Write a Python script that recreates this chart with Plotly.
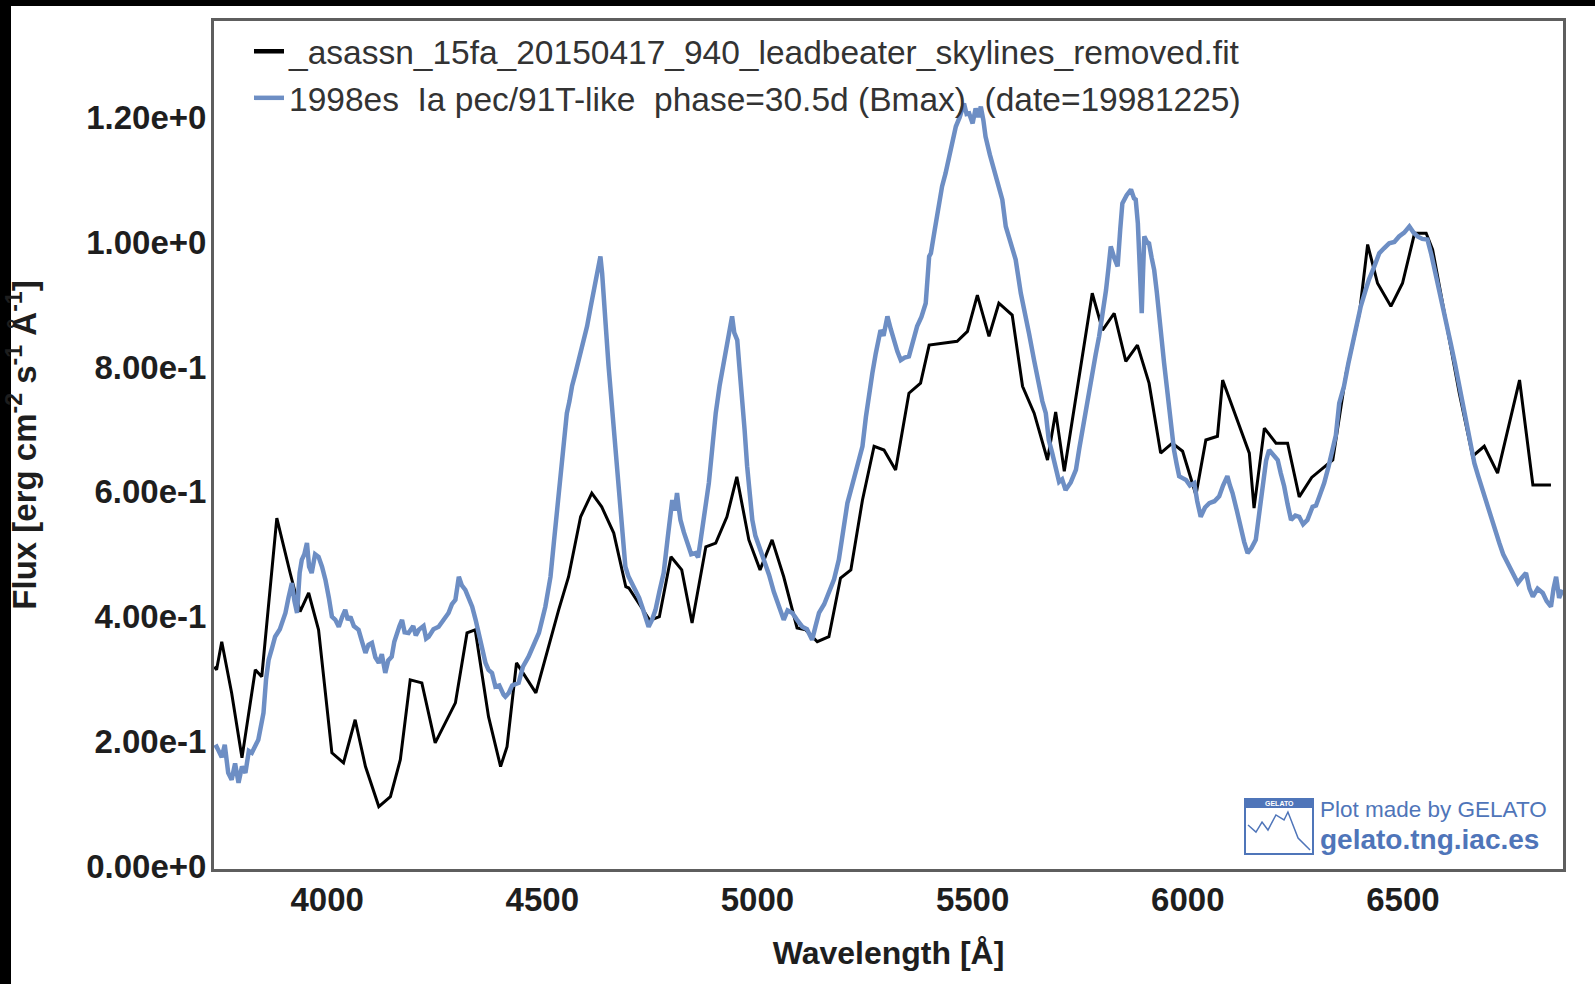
import plotly.graph_objects as go

# ---- data ----
obs_wave = [3738, 3743, 3755, 3778, 3802, 3833, 3848, 3883, 3914, 3937, 3957, 3980, 4011, 4038, 4065, 4089,
            4120, 4147, 4170, 4193, 4220, 4251, 4298, 4325, 4344, 4375, 4403, 4418, 4440, 4485, 4538, 4561,
            4589, 4615, 4638, 4666, 4694, 4701, 4750, 4772, 4799, 4824, 4848, 4880, 4903, 4929, 4952, 4980,
            5006, 5034, 5061, 5081, 5092, 5112, 5139, 5166, 5193, 5217, 5244, 5271, 5294, 5321, 5352, 5379,
            5399, 5464, 5488, 5511, 5538, 5561, 5592, 5616, 5643, 5674, 5693, 5713, 5778, 5802, 5829, 5856,
            5883, 5910, 5937, 5964, 5988, 6019, 6042, 6069, 6081, 6143, 6154, 6178, 6205, 6232, 6259, 6288,
            6337, 6368, 6399, 6418, 6441, 6472, 6499, 6527, 6554, 6569, 6600, 6631, 6662, 6689, 6720, 6771,
            6802, 6844]
obs_flux = [0.320, 0.315, 0.360, 0.278, 0.174, 0.315, 0.304, 0.558, 0.470, 0.408, 0.438, 0.379, 0.182, 0.166, 0.235, 0.160,
            0.096, 0.112, 0.171, 0.299, 0.294, 0.198, 0.262, 0.374, 0.379, 0.240, 0.160, 0.192, 0.326, 0.278, 0.411, 0.464,
            0.560, 0.598, 0.576, 0.534, 0.448, 0.446, 0.394, 0.400, 0.496, 0.475, 0.390, 0.512, 0.518, 0.560, 0.624, 0.523,
            0.475, 0.523, 0.464, 0.411, 0.382, 0.379, 0.360, 0.368, 0.462, 0.475, 0.587, 0.673, 0.667, 0.635, 0.758, 0.774,
            0.835, 0.841, 0.857, 0.915, 0.849, 0.902, 0.883, 0.769, 0.726, 0.651, 0.728, 0.633, 0.918, 0.859, 0.886, 0.809,
            0.835, 0.774, 0.662, 0.678, 0.665, 0.595, 0.683, 0.689, 0.779, 0.662, 0.574, 0.702, 0.678, 0.678, 0.592, 0.623,
            0.651, 0.790, 0.886, 0.996, 0.934, 0.897, 0.934, 1.014, 1.014, 0.988, 0.870, 0.758, 0.657, 0.673, 0.630, 0.779,
            0.611, 0.611]

tpl_wave = [3738, 3743, 3755, 3762, 3770, 3778, 3786, 3794, 3802, 3810, 3818, 3825, 3840, 3852, 3858, 3864,
            3872, 3879, 3890, 3903, 3910, 3918, 3924, 3930, 3936, 3941, 3947, 3953, 3958, 3964, 3972, 3980,
            3988, 3996, 4004, 4011, 4019, 4027, 4035, 4042, 4048, 4054, 4062, 4073, 4081, 4089, 4096, 4104,
            4112, 4120, 4127, 4135, 4142, 4150, 4156, 4162, 4168, 4174, 4180, 4189, 4200, 4206, 4213, 4224,
            4230, 4236, 4247, 4259, 4270, 4282, 4290, 4298, 4306, 4313, 4321, 4330, 4337, 4345, 4352, 4360,
            4368, 4375, 4383, 4391, 4400, 4410, 4414, 4422, 4430, 4445, 4455, 4468, 4480, 4492, 4507, 4519,
            4527, 4534, 4540, 4546, 4552, 4557, 4563, 4569, 4577, 4585, 4595, 4604, 4612, 4620, 4628, 4635,
            4639, 4643, 4648, 4654, 4660, 4666, 4672, 4678, 4685, 4693, 4700, 4710, 4717, 4725, 4732, 4740,
            4747, 4755, 4763, 4772, 4782, 4792, 4802, 4808, 4813, 4817, 4821, 4829, 4837, 4846, 4856, 4862,
            4868, 4877, 4887, 4895, 4903, 4912, 4922, 4933, 4941, 4946, 4953, 4958, 4964, 4970, 4976, 4982,
            4988, 4995, 5003, 5015, 5027, 5038, 5050, 5061, 5070, 5081, 5092, 5104, 5115, 5127, 5135, 5143,
            5155, 5166, 5178, 5189, 5200, 5209, 5218, 5228, 5236, 5244, 5252, 5259, 5267, 5275, 5281, 5286,
            5293, 5302, 5310, 5317, 5325, 5333, 5342, 5352, 5362, 5371, 5381, 5391, 5399, 5403, 5412, 5422,
            5429, 5437, 5445, 5453, 5461, 5470, 5480, 5486, 5492, 5500, 5507, 5513, 5519, 5525, 5530, 5540,
            5550, 5561, 5569, 5577, 5589, 5600, 5612, 5621, 5631, 5643, 5654, 5662, 5670, 5677, 5685, 5693,
            5701, 5708, 5716, 5728, 5740, 5748, 5755, 5766, 5778, 5786, 5794, 5802, 5810, 5816, 5821, 5829,
            5837, 5843, 5848, 5858, 5868, 5875, 5879, 5884, 5887, 5890, 5893, 5896, 5899, 5905, 5910, 5916,
            5922, 5928, 5933, 5939, 5945, 5951, 5957, 5962, 5968, 5974, 5980, 5988, 5996, 6005, 6015, 6022,
            6030, 6040, 6050, 6062, 6073, 6082, 6092, 6098, 6104, 6114, 6123, 6131, 6139, 6148, 6158, 6166,
            6174, 6182, 6189, 6198, 6209, 6216, 6224, 6232, 6240, 6250, 6259, 6268, 6278, 6290, 6298, 6307,
            6317, 6327, 6337, 6344, 6352, 6363, 6373, 6383, 6393, 6402, 6412, 6421, 6433, 6445, 6456, 6468,
            6480, 6491, 6503, 6515, 6525, 6534, 6545, 6557, 6566, 6576, 6584, 6592, 6602, 6611, 6621, 6631,
            6640, 6650, 6658, 6666, 6675, 6685, 6695, 6705, 6714, 6724, 6733, 6743, 6755, 6767, 6776, 6786,
            6794, 6802, 6813, 6825, 6834, 6844, 6850, 6856, 6863, 6871]
tpl_flux = [0.190, 0.192, 0.175, 0.195, 0.150, 0.139, 0.165, 0.134, 0.160, 0.150, 0.185, 0.182, 0.203, 0.246, 0.300, 0.331,
            0.350, 0.368, 0.380, 0.406, 0.430, 0.454, 0.425, 0.406, 0.470, 0.491, 0.500, 0.518, 0.480, 0.470, 0.500, 0.496,
            0.480, 0.459, 0.430, 0.400, 0.395, 0.384, 0.400, 0.411, 0.395, 0.400, 0.385, 0.379, 0.360, 0.342, 0.355, 0.358,
            0.335, 0.326, 0.340, 0.310, 0.330, 0.336, 0.360, 0.374, 0.385, 0.395, 0.375, 0.374, 0.385, 0.370, 0.379, 0.385,
            0.365, 0.368, 0.380, 0.384, 0.395, 0.406, 0.420, 0.427, 0.464, 0.450, 0.443, 0.430, 0.416, 0.395, 0.374, 0.350,
            0.326, 0.315, 0.310, 0.288, 0.290, 0.275, 0.272, 0.278, 0.290, 0.294, 0.320, 0.336, 0.355, 0.374, 0.416, 0.464,
            0.520, 0.571, 0.610, 0.662, 0.700, 0.726, 0.745, 0.769, 0.790, 0.811, 0.840, 0.865, 0.895, 0.923, 0.950, 0.977,
            0.950, 0.918, 0.860, 0.801, 0.750, 0.694, 0.640, 0.587, 0.530, 0.480, 0.465, 0.450, 0.443, 0.430, 0.416, 0.400,
            0.384, 0.395, 0.411, 0.440, 0.470, 0.530, 0.587, 0.570, 0.598, 0.575, 0.555, 0.535, 0.518, 0.500, 0.502, 0.495,
            0.523, 0.570, 0.614, 0.670, 0.726, 0.770, 0.806, 0.843, 0.881, 0.855, 0.843, 0.800, 0.758, 0.700, 0.641, 0.600,
            0.555, 0.530, 0.515, 0.490, 0.467, 0.440, 0.418, 0.395, 0.410, 0.406, 0.395, 0.384, 0.380, 0.363, 0.385, 0.406,
            0.420, 0.438, 0.460, 0.491, 0.540, 0.582, 0.605, 0.630, 0.650, 0.673, 0.720, 0.758, 0.790, 0.822, 0.845, 0.859,
            0.850, 0.881, 0.860, 0.843, 0.825, 0.811, 0.815, 0.817, 0.840, 0.865, 0.880, 0.902, 0.977, 0.982, 1.020, 1.068,
            1.089, 1.110, 1.137, 1.160, 1.185, 1.200, 1.222, 1.205, 1.206, 1.190, 1.214, 1.200, 1.217, 1.195, 1.169, 1.140,
            1.116, 1.085, 1.068, 1.025, 1.000, 0.972, 0.918, 0.890, 0.854, 0.810, 0.771, 0.745, 0.726, 0.683, 0.662, 0.635,
            0.616, 0.620, 0.603, 0.615, 0.635, 0.670, 0.699, 0.745, 0.790, 0.820, 0.849, 0.885, 0.923, 0.960, 0.993, 0.975,
            0.961, 1.020, 1.062, 1.075, 1.084, 1.070, 1.068, 1.030, 0.988, 0.930, 0.886, 0.950, 1.009, 1.000, 0.998, 0.975,
            0.955, 0.920, 0.881, 0.845, 0.806, 0.770, 0.731, 0.700, 0.667, 0.645, 0.625, 0.622, 0.619, 0.610, 0.614, 0.585,
            0.560, 0.575, 0.582, 0.585, 0.593, 0.610, 0.625, 0.610, 0.598, 0.570, 0.539, 0.520, 0.502, 0.510, 0.523, 0.570,
            0.614, 0.650, 0.667, 0.660, 0.651, 0.630, 0.609, 0.580, 0.555, 0.562, 0.560, 0.548, 0.555, 0.576, 0.578, 0.595,
            0.614, 0.640, 0.667, 0.690, 0.742, 0.769, 0.805, 0.838, 0.870, 0.897, 0.920, 0.940, 0.960, 0.982, 0.990, 0.998,
            1.000, 1.009, 1.015, 1.025, 1.015, 1.009, 1.005, 1.004, 0.980, 0.950, 0.925, 0.902, 0.870, 0.838, 0.805, 0.769,
            0.740, 0.705, 0.675, 0.646, 0.625, 0.603, 0.578, 0.555, 0.535, 0.518, 0.500, 0.486, 0.470, 0.454, 0.462, 0.470,
            0.445, 0.432, 0.445, 0.438, 0.425, 0.416, 0.445, 0.464, 0.430, 0.443]

obs_name = "_asassn_15fa_20150417_940_leadbeater_skylines_removed.fit"
tpl_name = "1998es  Ia pec/91T-like  phase=30.5d (Bmax)  (date=19981225)"

x_ticks = [4000, 4500, 5000, 5500, 6000, 6500]
y_ticks = [0.0, 0.2, 0.4, 0.6, 0.8, 1.0, 1.2]
y_ticktext = ["0.00e+0", "2.00e-1", "4.00e-1", "6.00e-1", "8.00e-1", "1.00e+0", "1.20e+0"]

# ---- layout geometry (pixels) ----
W, H = 1595, 984
L, R, T, B = 214, 1563, 21, 869
PW, PH = R - L, B - T


def px(xp):
    return (xp - L) / PW


def py(yp):
    return (B - yp) / PH


FONT = "Liberation Sans, Arial, sans-serif"
BLUE = "#6d8ec4"
LOGO = "#4f75b9"

fig = go.Figure()
fig.add_trace(go.Scatter(x=obs_wave, y=obs_flux, mode="lines", name=obs_name, legendgroup="obs",
                         showlegend=False, line=dict(color="#000000", width=3)))
fig.add_trace(go.Scatter(x=tpl_wave, y=tpl_flux, mode="lines", name=tpl_name, legendgroup="tpl",
                         showlegend=False, line=dict(color=BLUE, width=4.5)))
# legend entries (thicker legend lines, as in the reference)
fig.add_trace(go.Scatter(x=[None], y=[None], mode="lines", name=obs_name, legendgroup="obs",
                         line=dict(color="#000000", width=4.5)))
fig.add_trace(go.Scatter(x=[None], y=[None], mode="lines", name=tpl_name, legendgroup="tpl",
                         line=dict(color=BLUE, width=4.5)))

shapes = [
    # black strips at the top and left edge of the original screenshot
    dict(type="rect", xref="paper", yref="paper", x0=px(0), x1=px(W), y0=py(6), y1=py(0),
         fillcolor="black", line=dict(width=0), layer="above"),
    dict(type="rect", xref="paper", yref="paper", x0=px(0), x1=px(11), y0=py(H), y1=py(0),
         fillcolor="black", line=dict(width=0), layer="above"),
    # GELATO logo box
    dict(type="rect", xref="paper", yref="paper", x0=px(1245), x1=px(1313), y0=py(854), y1=py(799),
         fillcolor="white", line=dict(color=LOGO, width=2), layer="above"),
    dict(type="rect", xref="paper", yref="paper", x0=px(1245), x1=px(1313), y0=py(808), y1=py(799),
         fillcolor=LOGO, line=dict(width=0), layer="above"),
    dict(type="path", xref="paper", yref="paper", layer="above",
         path=("M {:.4f} {:.4f} L {:.4f} {:.4f} L {:.4f} {:.4f} L {:.4f} {:.4f} L {:.4f} {:.4f} "
               "L {:.4f} {:.4f} L {:.4f} {:.4f} L {:.4f} {:.4f} L {:.4f} {:.4f}").format(
             px(1248), py(825), px(1256), py(832), px(1262), py(822), px(1268), py(830),
             px(1276), py(815), px(1284), py(820), px(1288), py(812), px(1298), py(838),
             px(1310), py(850)),
         line=dict(color=LOGO, width=1.5)),
]

annotations = [
    dict(xref="paper", yref="paper", x=px(1279), y=py(803.5), text="GELATO", showarrow=False,
         font=dict(family=FONT, size=7, color="white", weight="bold"), xanchor="center", yanchor="middle"),
    dict(xref="paper", yref="paper", x=px(1318), y=py(809), text="Plot made by GELATO", showarrow=False,
         font=dict(family=FONT, size=22.5, color=LOGO), xanchor="left", yanchor="middle"),
    dict(xref="paper", yref="paper", x=px(1318), y=py(839), text="gelato.tng.iac.es", showarrow=False,
         font=dict(family=FONT, size=28, color=LOGO, weight="bold"), xanchor="left", yanchor="middle"),
]

axis_common = dict(showgrid=False, zeroline=False, showline=True, mirror=True,
                   linecolor="#5e5e5e", linewidth=3, ticks="",
                   tickfont=dict(family=FONT, size=33, color="#1e1e1e", weight="bold"))

fig.update_layout(
    width=W, height=H,
    margin=dict(l=L, r=W - R, t=T, b=H - B, autoexpand=False),
    paper_bgcolor="white", plot_bgcolor="white",
    xaxis=dict(range=[3737, 6872], tickvals=x_ticks, ticklabelstandoff=-1,
               title=dict(text="Wavelength [Å]", standoff=26,
                          font=dict(family=FONT, size=32, color="#1e1e1e", weight="bold")),
               **axis_common),
    yaxis=dict(range=[-0.004, 1.354], tickvals=y_ticks, ticktext=y_ticktext, ticklabelstandoff=-2,
               title=dict(text="Flux [erg cm<sup>-2</sup> s<sup>-1</sup> Å<sup>-1</sup>]", standoff=40,
                          font=dict(family=FONT, size=33, color="#1e1e1e", weight="bold")),
               **axis_common),
    legend=dict(x=px(249), y=py(23), xanchor="left", yanchor="top", bgcolor="rgba(0,0,0,0)",
                borderwidth=0, font=dict(family=FONT, size=33.5, color="#333333"),
                tracegroupgap=0, itemwidth=30),
    shapes=shapes,
    annotations=annotations,
    showlegend=True,
)

fig.write_html("out.html", config={"displayModeBar": False},
               post_script="document.body.style.margin='0';document.body.style.overflow='hidden';")
